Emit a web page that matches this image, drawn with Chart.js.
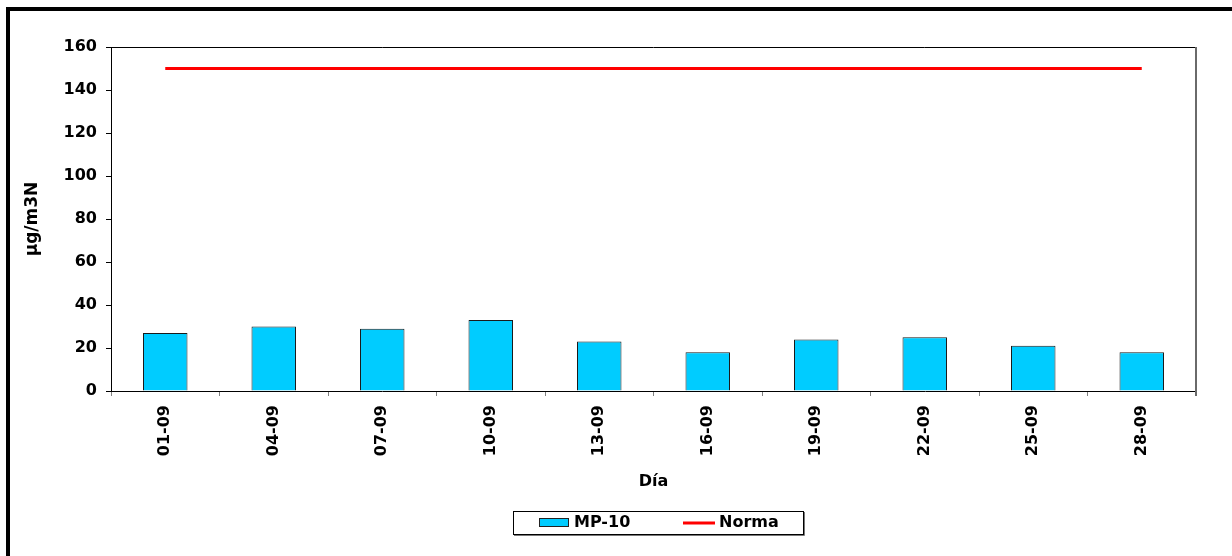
<!DOCTYPE html>
<html>
<head>
<meta charset="utf-8">
<script src="https://cdn.jsdelivr.net/npm/chart.js@4/dist/chart.umd.min.js"></script>
<style>
  html, body { margin: 0; padding: 0; background: #fff; }
  #wrap { width: 1232px; height: 556px; position: relative; }
</style>
</head>
<body>
<div id="wrap"><canvas id="c" width="1232" height="556"></canvas></div>
<script>
// Daily MP-10 readings (µg/m3N) against the 150 µg/m3N standard
const days = ['01-09', '04-09', '07-09', '10-09', '13-09', '16-09', '19-09', '22-09', '25-09', '28-09'];
const mp10 = [27, 30, 29, 33, 23, 18, 24, 25, 21, 18];
const norma = [150, 150, 150, 150, 150, 150, 150, 150, 150, 150];
const yTickValues = [0, 20, 40, 60, 80, 100, 120, 140, 160];

const FONT = 'DejaVu Sans';
Chart.defaults.font.family = FONT;
Chart.defaults.font.weight = 'bold';
Chart.defaults.font.size = 16;
Chart.defaults.color = '#000';

// Frame, plot-area border and boxed legend
const decorations = {
  id: 'decorations',
  afterDraw(chart) {
    const ctx = chart.ctx;
    const a = chart.chartArea;
    ctx.save();
    // plot area: black top edge, grey right edge
    ctx.strokeStyle = '#000';
    ctx.lineWidth = 1;
    ctx.beginPath();
    ctx.moveTo(a.left, Math.round(a.top) + 0.5);
    ctx.lineTo(a.right, Math.round(a.top) + 0.5);
    ctx.stroke();
    ctx.strokeStyle = '#6a6a6a';
    ctx.lineWidth = 2;
    ctx.beginPath();
    ctx.moveTo(Math.round(a.right), a.top);
    ctx.lineTo(Math.round(a.right), a.bottom + 5);
    ctx.stroke();

    // outer frame (top and left)
    ctx.fillStyle = '#000';
    ctx.fillRect(6, 7, 4, chart.height - 7);
    ctx.fillRect(6, 7, chart.width - 6, 4);

    // legend box
    const lg = { x: 513, y: 511, w: 290, h: 23 };
    ctx.fillStyle = '#fff';
    ctx.fillRect(lg.x, lg.y, lg.w, lg.h);
    ctx.strokeStyle = '#000';
    ctx.lineWidth = 1;
    ctx.strokeRect(lg.x + 0.5, lg.y + 0.5, lg.w, lg.h);
    ctx.strokeStyle = '#777';
    ctx.beginPath();
    ctx.moveTo(lg.x + lg.w + 1.5, lg.y + 1);
    ctx.lineTo(lg.x + lg.w + 1.5, lg.y + lg.h + 1.5);
    ctx.lineTo(lg.x + 1, lg.y + lg.h + 1.5);
    ctx.stroke();

    const cy = lg.y + lg.h / 2 + 0.5;
    const ds = chart.data.datasets;
    ctx.font = 'bold 16px "' + FONT + '"';
    ctx.textBaseline = 'middle';
    ctx.textAlign = 'left';
    // bar series swatch
    ctx.fillStyle = ds[0].backgroundColor;
    ctx.fillRect(539, cy - 4, 29, 8);
    ctx.strokeStyle = '#222';
    ctx.lineWidth = 1;
    ctx.strokeRect(539.5, cy - 4.5, 29, 8);
    ctx.fillStyle = '#000';
    ctx.fillText(ds[0].label, 574, cy);
    // line series swatch
    ctx.strokeStyle = ds[1].borderColor;
    ctx.lineWidth = 3;
    ctx.beginPath();
    ctx.moveTo(683, cy);
    ctx.lineTo(715, cy);
    ctx.stroke();
    ctx.fillStyle = '#000';
    ctx.fillText(ds[1].label, 719, cy);
    ctx.restore();
  }
};

new Chart(document.getElementById('c'), {
  data: {
    labels: days,
    datasets: [
      {
        type: 'bar',
        label: 'MP-10',
        data: mp10,
        backgroundColor: '#00CCFF',
        borderColor: '#1a1a1a',
        borderWidth: 1,
        barPercentage: 0.41,
        categoryPercentage: 1,
        order: 2
      },
      {
        type: 'line',
        label: 'Norma',
        data: norma,
        borderColor: '#FF0000',
        backgroundColor: '#FF0000',
        borderWidth: 3,
        pointRadius: 0,
        tension: 0,
        order: 1
      }
    ]
  },
  options: {
    responsive: false,
    animation: false,
    layout: { padding: { top: 47, right: 36, bottom: 45, left: 0 } },
    plugins: {
      legend: { display: false },
      tooltip: { enabled: false }
    },
    scales: {
      x: {
        offset: true,
        grid: { offset: true, drawOnChartArea: false, drawTicks: true, tickLength: 5, color: '#808080' },
        border: { display: true, color: '#000', width: 1 },
        ticks: { autoSkip: false, minRotation: 90, maxRotation: 90, padding: 9, color: '#000', font: { size: 16, weight: 'bold' } },
        title: { display: true, text: 'Día', color: '#000', font: { size: 16, weight: 'bold' }, padding: { top: 0, bottom: 20 } },
        afterFit(scale) { scale.height = 120; }
      },
      y: {
        min: 0,
        max: 160,
        afterBuildTicks(scale) { scale.ticks = yTickValues.map(v => ({ value: v })); },
        grid: { drawOnChartArea: false, drawTicks: true, tickLength: 5, color: '#000' },
        border: { display: true, color: '#000', width: 1 },
        ticks: { padding: 9, color: '#000', font: { size: 16, weight: 'bold' } },
        title: { display: true, text: 'µg/m3N', color: '#000', font: { size: 17, weight: 'bold' }, padding: { top: 22, bottom: 0 } },
        afterFit(scale) { scale.width = 111; }
      }
    }
  },
  plugins: [decorations]
});
</script>
</body>
</html>
